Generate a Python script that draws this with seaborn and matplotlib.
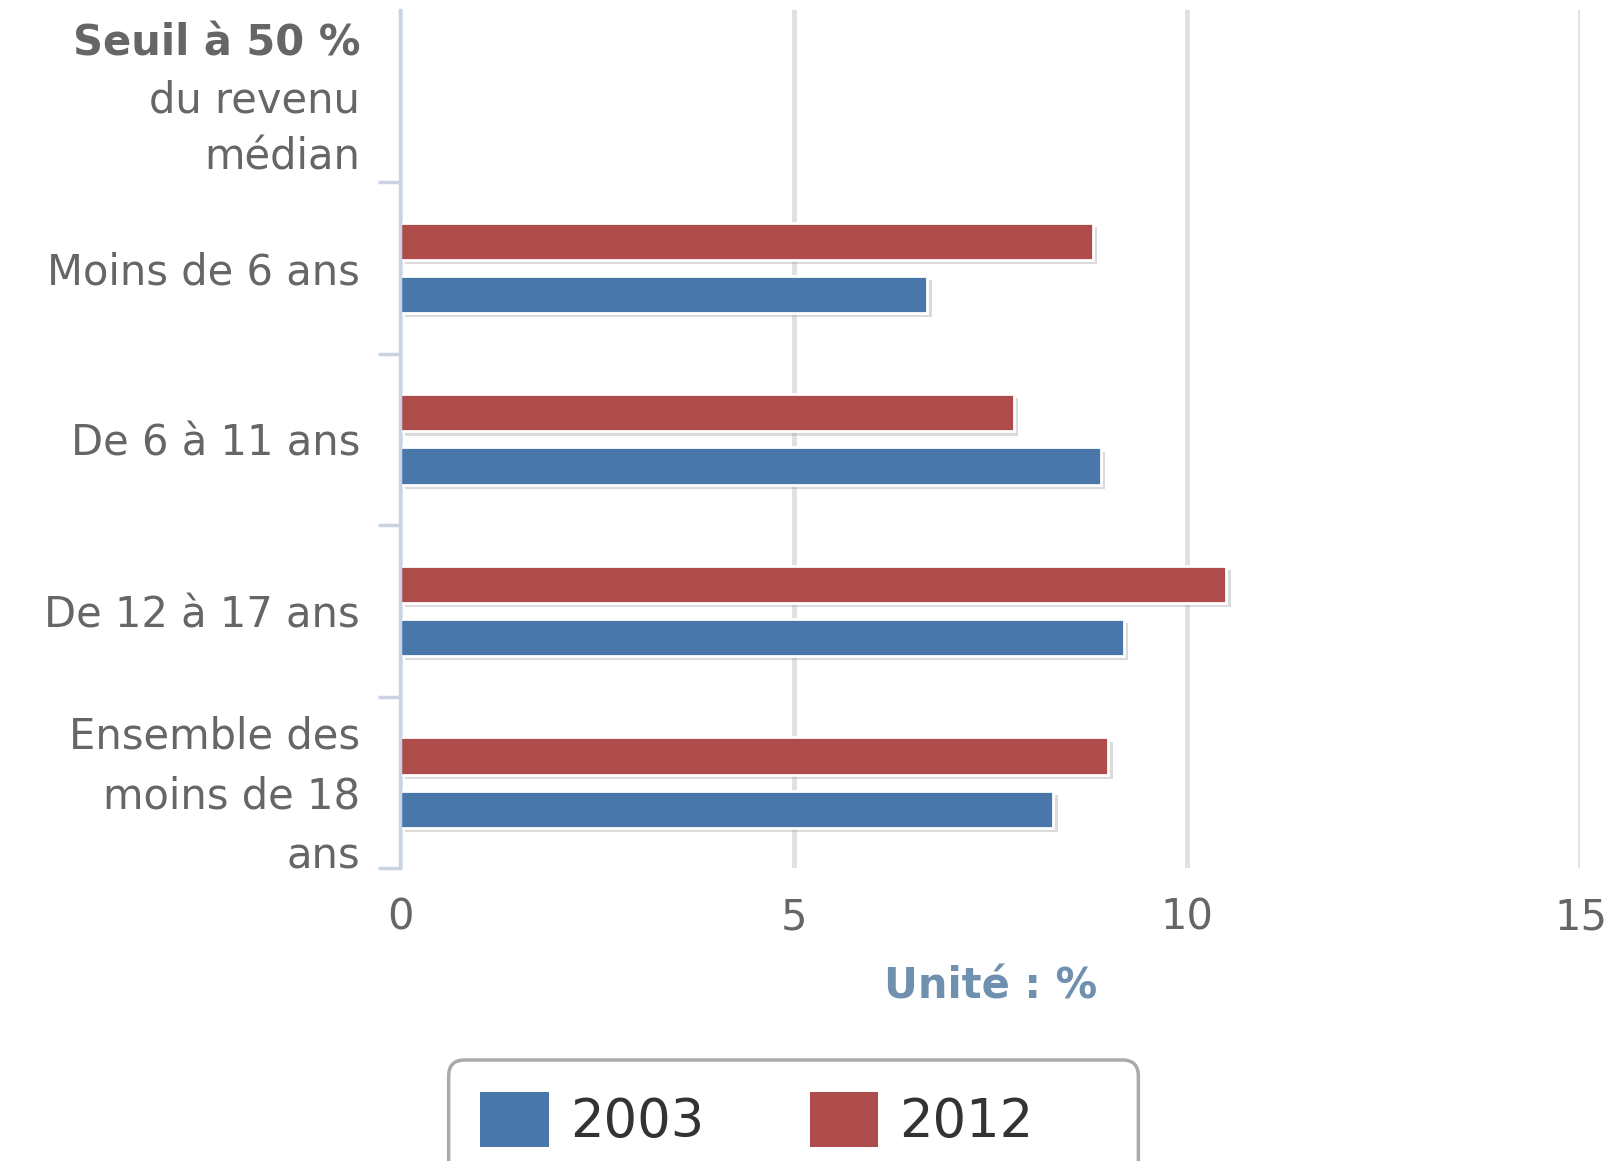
import pandas as pd
import matplotlib.pyplot as plt
import matplotlib.patheffects as pe
from matplotlib.patches import Patch, FancyBboxPatch
import seaborn as sns

# Taux de pauvreté des enfants, seuil à 50 % du revenu médian
groupes = ['Moins de 6 ans', 'De 6 à 11 ans', 'De 12 à 17 ans',
           'Ensemble des\nmoins de 18\nans']
taux_2003 = [6.7, 8.9, 9.2, 8.3]
taux_2012 = [8.8, 7.8, 10.5, 9.0]
annees = ['2003', '2012']
entete = 'Seuil à 50 %'
couleurs = {'2003': '#4a77aa', '2012': '#ad4c4a'}

df = pd.DataFrame({
    'groupe': groupes * 2,
    'annee': ['2003'] * len(groupes) + ['2012'] * len(groupes),
    'taux': taux_2003 + taux_2012,
})

sns.set_style('white')
plt.rcParams['font.family'] = ['DejaVu Sans']

fig = plt.figure(figsize=(16.21, 11.61), dpi=100)
ax = fig.add_axes([0.247, 0.252, 0.728, 0.739])

order = [entete] + groupes
sns.barplot(data=df, y='groupe', x='taux', hue='annee', order=order,
            hue_order=['2012', '2003'], palette=couleurs, orient='h',
            width=0.62, gap=0.3, saturation=1, legend=False, ax=ax,
            edgecolor='white', linewidth=2)

# petite ombre sous les barres
for p in ax.patches:
    p.set_path_effects([pe.SimplePatchShadow(offset=(3, -3), shadow_rgbFace='#999999', alpha=0.35),
                        pe.Normal()])

ax.set_xlim(0, 15)
ax.set_xticks([0, 5, 10, 15])
ax.grid(axis='x', color='#e0e0e0', linewidth=3.5)
ax.grid(axis='y', visible=False)
ax.set_axisbelow(True)
for s in ['top', 'right', 'bottom']:
    ax.spines[s].set_visible(False)
ax.spines['left'].set_color('#c8d4e2')
ax.spines['left'].set_linewidth(2.5)

# libellés des groupes
labels = [''] + groupes
ax.set_yticks(range(len(order)))
ax.set_yticklabels(labels, fontsize=30, color='#666666', linespacing=1.55)
ax.tick_params(axis='y', which='major', left=True, length=0, pad=29)
ax.set_yticks([i + 0.5 for i in range(len(order))], minor=True)
ax.tick_params(axis='y', which='minor', left=True, length=16, width=2.5, color='#c8d4e2')
ax.tick_params(axis='x', length=0, pad=20, labelsize=30, labelcolor='#666666')
ax.set_ylim(len(order) - 0.5, -0.5)

# en-tête en plusieurs lignes (première ligne en gras)
for txt, dy, poids in [(entete, 38, 'bold'), ('du revenu', -3, 'normal'), ('médian', -44, 'normal')]:
    ax.annotate(txt, xy=(0, 0), xycoords=('axes fraction', 'data'),
                xytext=(-29, dy), textcoords='offset points', ha='right', va='center',
                fontsize=30, fontweight=poids, color='#666666')

ax.set_ylabel('')
ax.set_xlabel('Unité : %', fontsize=30, fontweight='bold', color='#7090b0', labelpad=20)

handles = [Patch(facecolor=couleurs[a], edgecolor='none', label=a) for a in annees]
leg = fig.legend(handles=handles, loc='upper center', bbox_to_anchor=(0.467, 0.087),
                 borderaxespad=0, ncol=2, fontsize=38, frameon=False,
                 handlelength=1.3, handleheight=1.25, handletextpad=0.4,
                 columnspacing=2.0, borderpad=0.6)
for t in leg.get_texts():
    t.set_color('#333333')

# cadre de légende arrondi, plus large à droite comme dans l'original
fig.canvas.draw()
bb = leg.get_window_extent()
cadre = FancyBboxPatch((bb.x0, bb.y0), bb.width + 73, bb.height,
                       boxstyle='round,pad=0,rounding_size=16', transform=None,
                       facecolor='white', edgecolor='#aaaaaa', linewidth=2.5, zorder=0)
fig.add_artist(cadre)

fig.savefig('out.png', dpi=100)
